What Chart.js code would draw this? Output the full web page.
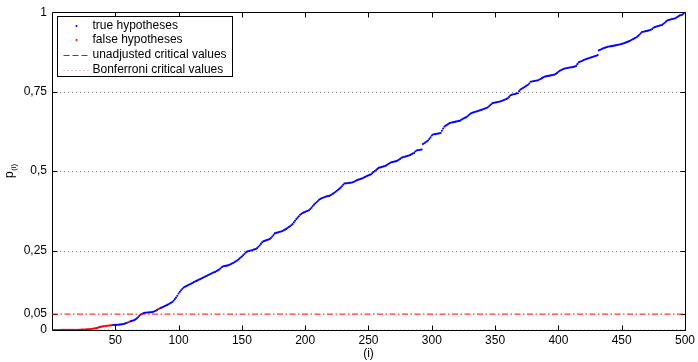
<!DOCTYPE html>
<html>
<head>
<meta charset="utf-8">
<script src="https://cdn.jsdelivr.net/npm/chart.js@4.4.1/dist/chart.umd.min.js"></script>
<style>
  html, body { margin: 0; padding: 0; background: #fff; }
  canvas { display: block; }
</style>
</head>
<body>
<canvas id="c" width="698" height="362"></canvas>
<script>
// Sorted p-values p_(1) ... p_(500)
const pSorted = [
  0.00002, 0.00005, 0.00008, 0.00012, 0.00015, 0.0002, 0.00024, 0.00028, 0.00031, 0.00035,
  0.0004, 0.00044, 0.0005, 0.00054, 0.0006, 0.00063, 0.00067, 0.0007, 0.00075, 0.0008,
  0.0009, 0.001, 0.0011, 0.0013, 0.0015, 0.0017, 0.0019, 0.0021, 0.0024, 0.0028,
  0.0033, 0.0038, 0.0044, 0.005, 0.0058, 0.0068, 0.0082, 0.0095, 0.0105, 0.0113,
  0.012, 0.0126, 0.0131, 0.0136, 0.014, 0.0145, 0.015, 0.0155, 0.0158, 0.016,
  0.0162, 0.0165, 0.0168, 0.0172, 0.0178, 0.0186, 0.0196, 0.0208, 0.022, 0.024,
  0.0256, 0.0272, 0.0286, 0.0298, 0.031, 0.0335, 0.0365, 0.040, 0.0445, 0.048,
  0.0505, 0.0525, 0.054, 0.0545, 0.055, 0.0553, 0.0556, 0.0559, 0.0562, 0.0575,
  0.059, 0.0608, 0.0632, 0.066, 0.0678, 0.0695, 0.0712, 0.073, 0.075, 0.077,
  0.079, 0.0812, 0.0835, 0.0858, 0.088, 0.092, 0.097, 0.102, 0.108, 0.115,
  0.12, 0.125, 0.13, 0.1335, 0.136, 0.138, 0.14, 0.142, 0.144, 0.146,
  0.148, 0.1505, 0.1525, 0.1545, 0.156, 0.158, 0.16, 0.162, 0.164, 0.166,
  0.168, 0.17, 0.172, 0.174, 0.176, 0.178, 0.18, 0.1815, 0.183, 0.1855,
  0.1875, 0.19, 0.1935, 0.1975, 0.2, 0.201, 0.2018, 0.2025, 0.2032, 0.205,
  0.207, 0.209, 0.211, 0.213, 0.2155, 0.218, 0.221, 0.2245, 0.228, 0.231,
  0.235, 0.239, 0.2435, 0.2465, 0.248, 0.249, 0.25, 0.251, 0.2525, 0.2538,
  0.255, 0.2575, 0.262, 0.266, 0.271, 0.276, 0.279, 0.2805, 0.282, 0.2835,
  0.285, 0.286, 0.2895, 0.294, 0.299, 0.304, 0.3055, 0.3065, 0.3078, 0.309,
  0.31, 0.3115, 0.3135, 0.3158, 0.3182, 0.321, 0.3238, 0.3265, 0.3295, 0.333,
  0.3385, 0.344, 0.349, 0.3535, 0.358, 0.3625, 0.3655, 0.368, 0.37, 0.3718,
  0.3735, 0.375, 0.377, 0.3805, 0.385, 0.39, 0.3945, 0.3985, 0.402, 0.406,
  0.41, 0.4125, 0.4145, 0.4162, 0.4178, 0.4192, 0.4205, 0.4212, 0.422, 0.4238,
  0.4262, 0.429, 0.432, 0.435, 0.4382, 0.4415, 0.4448, 0.448, 0.4525, 0.457,
  0.461, 0.4615, 0.462, 0.4625, 0.463, 0.4635, 0.464, 0.4655, 0.4675, 0.4695,
  0.4715, 0.4732, 0.474, 0.4755, 0.4772, 0.479, 0.481, 0.483, 0.485, 0.4865,
  0.488, 0.49, 0.4935, 0.497, 0.5, 0.5035, 0.507, 0.51, 0.5112, 0.5124,
  0.5136, 0.5148, 0.516, 0.518, 0.5205, 0.523, 0.5255, 0.528, 0.5288, 0.5296,
  0.5305, 0.5315, 0.533, 0.5355, 0.5385, 0.542, 0.5432, 0.5445, 0.5456, 0.5468,
  0.548, 0.549, 0.551, 0.553, 0.555, 0.557, 0.5615, 0.565, 0.5658, 0.5665,
  0.5672, 0.568, 0.585, 0.5878, 0.5905, 0.5932, 0.596, 0.601, 0.606, 0.612,
  0.615, 0.6158, 0.6165, 0.6172, 0.618, 0.619, 0.62, 0.627, 0.634, 0.64,
  0.643, 0.6455, 0.648, 0.651, 0.652, 0.653, 0.654, 0.6548, 0.6556, 0.6565,
  0.6575, 0.658, 0.6605, 0.663, 0.6655, 0.6675, 0.669, 0.672, 0.6755, 0.679,
  0.682, 0.6835, 0.6848, 0.686, 0.6872, 0.6885, 0.6898, 0.6912, 0.6926, 0.694,
  0.6955, 0.697, 0.6985, 0.7, 0.7035, 0.707, 0.7105, 0.714, 0.7148, 0.7156,
  0.7164, 0.7172, 0.718, 0.719, 0.7205, 0.722, 0.7237, 0.7255, 0.7272, 0.729,
  0.7335, 0.738, 0.74, 0.741, 0.742, 0.743, 0.744, 0.745, 0.7515, 0.7565,
  0.759, 0.7615, 0.764, 0.7665, 0.769, 0.7715, 0.7758, 0.781, 0.7818, 0.7826,
  0.7834, 0.7842, 0.785, 0.786, 0.788, 0.79, 0.7925, 0.795, 0.797, 0.798,
  0.7988, 0.7996, 0.8004, 0.8012, 0.802, 0.8028, 0.8036, 0.806, 0.809, 0.8125,
  0.8155, 0.8175, 0.8195, 0.8215, 0.823, 0.8237, 0.8244, 0.8251, 0.8258, 0.8265,
  0.8272, 0.828, 0.8288, 0.831, 0.8365, 0.842, 0.8438, 0.8456, 0.8474, 0.8492,
  0.851, 0.8525, 0.854, 0.8553, 0.8566, 0.8579, 0.8592, 0.8605, 0.8618, 0.8632,
  0.865, 0.88, 0.8818, 0.8836, 0.8854, 0.887, 0.8884, 0.8898, 0.891, 0.892,
  0.8926, 0.8932, 0.894, 0.8948, 0.8956, 0.8964, 0.8972, 0.898, 0.899, 0.9,
  0.9012, 0.9027, 0.9042, 0.9058, 0.9074, 0.909, 0.911, 0.9132, 0.9154, 0.9176,
  0.9198, 0.922, 0.9255, 0.929, 0.9335, 0.9375, 0.9385, 0.9394, 0.9403, 0.9412,
  0.9421, 0.943, 0.9445, 0.947, 0.951, 0.953, 0.9542, 0.9554, 0.9566, 0.9578,
  0.959, 0.96, 0.9635, 0.967, 0.9705, 0.974, 0.9752, 0.9764, 0.9776, 0.9788,
  0.9795, 0.98, 0.9825, 0.985, 0.9875, 0.99, 0.991, 0.9925, 0.996, 0.9995
];

// Ranks whose hypothesis is false (the rest are true hypotheses)
const falseRanks = [
  1, 2, 3, 4, 5, 6, 7, 8, 9, 10, 11, 12, 13, 14, 15, 16, 17, 18, 19, 20, 21,
  23, 24, 25, 26, 27, 28, 29, 30, 31, 32, 33, 34, 35, 36, 37,
  39, 40, 41, 42, 43, 44, 45, 46, 47,
  60, 61, 84
];

const numTests = 500;
const alpha = 0.05;
const bonferroniLevel = alpha / numTests;

const xTickValues = [50, 100, 150, 200, 250, 300, 350, 400, 450, 500];
const yTickValues = [0, 0.05, 0.25, 0.5, 0.75, 1];
const yGridValues = [0.25, 0.5, 0.75];

const legendLabels = ['true hypotheses', 'false hypotheses', 'unadjusted critical values', 'Bonferroni critical values'];

const FONT = '"Liberation Sans", Arial, Helvetica, sans-serif';

const falseSet = new Set(falseRanks);
const truePts = [], falsePts = [];
pSorted.forEach((p, k) => {
  const pt = { x: k + 1, y: p };
  (falseSet.has(k + 1) ? falsePts : truePts).push(pt);
});

const BLUE = '#0000ff', RED = '#ff0000';
const DASHDOT = [6, 2.5, 1.5, 2.5];

// Grid lines, inward tick marks and the axes box
const framePlugin = {
  id: 'frame',
  beforeDatasetsDraw(chart) {
    const { ctx, chartArea: a, scales } = chart;
    ctx.save();
    ctx.strokeStyle = '#8c8c8c';
    ctx.lineWidth = 1;
    ctx.setLineDash([1, 3]);
    yGridValues.forEach(v => {
      const y = Math.round(scales.y.getPixelForValue(v)) + 0.5;
      ctx.beginPath();
      ctx.moveTo(a.left, y);
      ctx.lineTo(a.right, y);
      ctx.stroke();
    });
    ctx.restore();
  },
  afterDatasetDraw(chart, args) {
    if (args.index !== 3) return;
    const { ctx, chartArea: a, scales } = chart;
    ctx.save();
    ctx.strokeStyle = '#000';
    ctx.lineWidth = 1;
    ctx.setLineDash([]);
    const L = Math.round(a.left) + 0.5, R = Math.round(a.right) + 0.5;
    const T = Math.round(a.top) + 0.5, B = Math.round(a.bottom) + 0.5;
    ctx.beginPath();
    ctx.rect(L, T, R - L, B - T);
    ctx.stroke();
    const tl = 5;
    ctx.beginPath();
    xTickValues.forEach(v => {
      const x = Math.round(scales.x.getPixelForValue(v)) + 0.5;
      ctx.moveTo(x, B); ctx.lineTo(x, B - tl);
      ctx.moveTo(x, T); ctx.lineTo(x, T + tl);
    });
    yTickValues.forEach(v => {
      const y = Math.round(scales.y.getPixelForValue(v)) + 0.5;
      ctx.moveTo(L, y); ctx.lineTo(L + tl, y);
      ctx.moveTo(R, y); ctx.lineTo(R - tl, y);
    });
    ctx.stroke();
    ctx.restore();
  },
  afterDraw(chart) {
    const { ctx, chartArea: a } = chart;
    ctx.save();
    // y-axis label p_(i)
    ctx.fillStyle = '#000';
    ctx.translate(13, 178);
    ctx.rotate(-Math.PI / 2);
    ctx.textBaseline = 'alphabetic';
    ctx.textAlign = 'left';
    ctx.font = '12px ' + FONT;
    ctx.fillText('p', 0, 0);
    const pw = ctx.measureText('p').width;
    ctx.font = '8px ' + FONT;
    ctx.fillText('(i)', pw + 0.5, 3);
    ctx.restore();

    // legend
    ctx.save();
    const bx = Math.round(a.left) + 5.5, by = Math.round(a.top) + 4.5;
    const bw = 175, bh = 60;
    ctx.fillStyle = '#fff';
    ctx.fillRect(bx, by, bw, bh);
    ctx.strokeStyle = '#000';
    ctx.lineWidth = 1;
    ctx.strokeRect(bx, by, bw, bh);
    const rowY = [by + 9.5, by + 23.5, by + 38, by + 53];
    const sx0 = bx + 6, sx1 = bx + 33, sxm = bx + 19;
    ctx.fillStyle = BLUE;
    ctx.beginPath(); ctx.arc(sxm, rowY[0], 1.05, 0, Math.PI * 2); ctx.fill();
    ctx.fillStyle = RED;
    ctx.beginPath(); ctx.arc(sxm, rowY[1], 1.05, 0, Math.PI * 2); ctx.fill();
    ctx.strokeStyle = RED;
    ctx.setLineDash([6, 3]);
    ctx.beginPath(); ctx.moveTo(sx0, Math.round(rowY[2]) + 0.5); ctx.lineTo(sx1, Math.round(rowY[2]) + 0.5); ctx.stroke();
    ctx.strokeStyle = 'rgba(255,0,0,0.5)';
    ctx.setLineDash([1, 3]);
    ctx.beginPath(); ctx.moveTo(sx0, Math.round(rowY[3]) + 0.5); ctx.lineTo(sx1, Math.round(rowY[3]) + 0.5); ctx.stroke();
    ctx.setLineDash([]);
    ctx.fillStyle = '#000';
    ctx.font = '12px ' + FONT;
    ctx.textBaseline = 'middle';
    ctx.textAlign = 'left';
    legendLabels.forEach((t, k) => ctx.fillText(t, bx + 35, rowY[k]));
    ctx.restore();
  }
};

new Chart(document.getElementById('c'), {
  type: 'scatter',
  data: {
    datasets: [
      { label: legendLabels[0], data: truePts, backgroundColor: BLUE, borderColor: BLUE,
        pointRadius: 1.05, borderWidth: 0, pointBorderWidth: 0, order: 2 },
      { label: legendLabels[1], data: falsePts, backgroundColor: RED, borderColor: RED,
        pointRadius: 1.05, borderWidth: 0, pointBorderWidth: 0, order: 1 },
      { label: legendLabels[2], data: [{ x: 0, y: alpha }, { x: numTests, y: alpha }],
        showLine: true, borderColor: RED, borderWidth: 1, borderDash: DASHDOT,
        pointRadius: 0, order: 0 },
      { label: legendLabels[3], data: [{ x: 0, y: bonferroniLevel }, { x: numTests, y: bonferroniLevel }],
        showLine: true, borderColor: 'rgba(255,0,0,0.5)', borderWidth: 1, borderDash: [1, 3],
        pointRadius: 0, order: 3 }
    ]
  },
  options: {
    responsive: false,
    animation: false,
    devicePixelRatio: 1,
    layout: { padding: { top: 10, right: 12, left: 0, bottom: 0 } },
    plugins: { legend: { display: false }, tooltip: { enabled: false } },
    scales: {
      x: {
        type: 'linear', min: 0, max: numTests,
        afterBuildTicks: s => { s.ticks = xTickValues.map(v => ({ value: v })); },
        afterFit: s => { s.height = 32; },
        grid: { display: false, drawTicks: false },
        border: { display: false },
        ticks: { color: '#000', font: { family: FONT, size: 12 }, padding: 3, autoSkip: false, maxRotation: 0 },
        title: { display: true, text: '(i)', color: '#000', font: { family: FONT, size: 12 }, padding: { top: 0, bottom: 1 } }
      },
      y: {
        type: 'linear', min: 0, max: 1,
        afterBuildTicks: s => { s.ticks = yTickValues.map(v => ({ value: v })); },
        afterFit: s => { s.width = 52; },
        grid: { display: false, drawTicks: false },
        border: { display: false },
        ticks: { color: '#000', font: { family: FONT, size: 12 }, padding: 5, autoSkip: false,
                 callback: v => String(v).replace('.', ',') }
      }
    }
  },
  plugins: [framePlugin]
});
</script>
</body>
</html>
